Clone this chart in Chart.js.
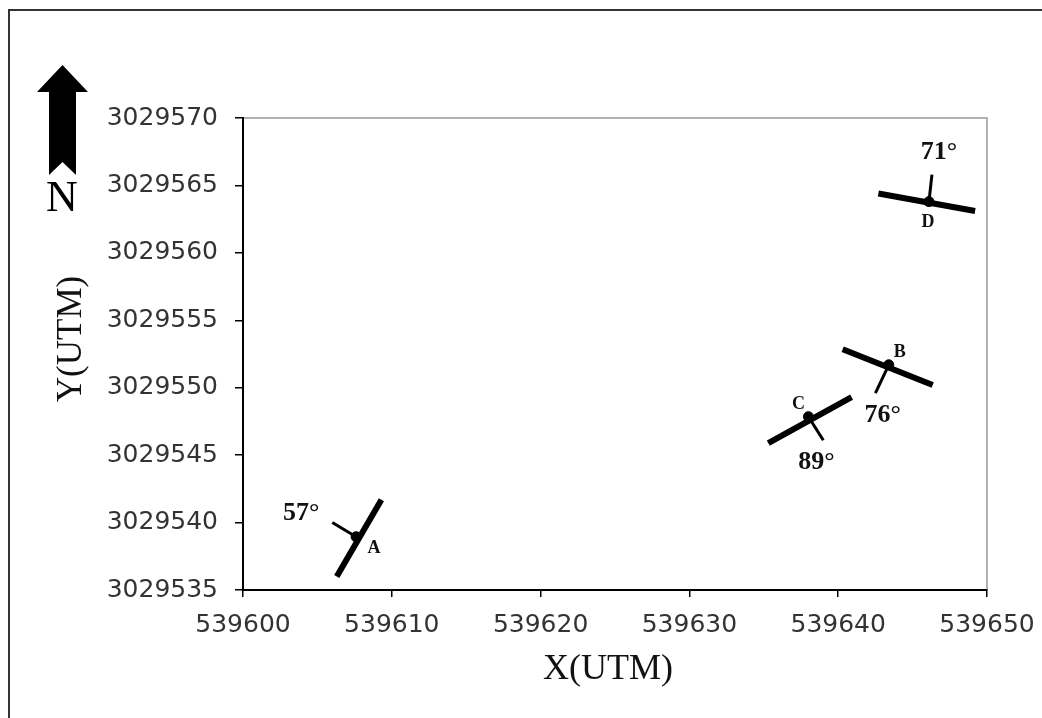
<!DOCTYPE html>
<html>
<head>
<meta charset="utf-8">
<script src="https://cdn.jsdelivr.net/npm/chart.js@4/dist/chart.umd.min.js"></script>
<style>
  html, body { margin: 0; padding: 0; background: #fff; }
  #wrap { width: 1042px; height: 718px; position: relative; }
</style>
</head>
<body>
<div id="wrap"><canvas id="c" width="1042" height="718"></canvas></div>
<script>
// ---- data ----
const stations = ['A', 'B', 'C', 'D'];
const dipLabels = ['57°', '76°', '89°', '71°'];
const stationX = [539607.6, 539643.4, 539638.0, 539646.1];
const stationY = [3029538.95, 3029551.7, 3029547.85, 3029563.8];
const strikeX1 = [539606.3, 539640.3, 539635.3, 539642.7];
const strikeY1 = [3029536.0, 3029552.85, 3029545.9, 3029564.4];
const strikeX2 = [539609.3, 539646.35, 539640.9, 539649.2];
const strikeY2 = [3029541.7, 3029550.2, 3029549.3, 3029563.1];
const dipEndX = [539606.0, 539642.5, 539639.0, 539646.3];
const dipEndY = [3029540.0, 3029549.6, 3029546.1, 3029565.8];
const xTicks = [539600, 539610, 539620, 539630, 539640, 539650];
const yTicks = [3029535, 3029540, 3029545, 3029550, 3029555, 3029560, 3029565, 3029570];
const xTitle = 'X(UTM)';
const yTitle = 'Y(UTM)';
const northLabel = 'N';

// ---- styles (label offsets in pixels relative to station) ----
const dipLabelOffset = { A: [-55, -23], B: [-6, 50], C: [8, 46], D: [10, -49] };
const nameOffset = { A: [18, 12], B: [11, -12], C: [-10, -12], D: [-1, 21] };

const datasets = [];
stations.forEach((s, i) => {
  datasets.push({
    label: 'strike ' + s,
    data: [{ x: strikeX1[i], y: strikeY1[i] }, { x: strikeX2[i], y: strikeY2[i] }],
    showLine: true, borderColor: '#000', borderWidth: 6, pointRadius: 0,
    borderCapStyle: 'butt', clip: false
  });
  datasets.push({
    label: 'dip ' + s,
    data: [{ x: stationX[i], y: stationY[i] }, { x: dipEndX[i], y: dipEndY[i] }],
    showLine: true, borderColor: '#000', borderWidth: 3, pointRadius: 0,
    borderCapStyle: 'butt', clip: false
  });
});
datasets.push({
  label: 'stations',
  data: stations.map((s, i) => ({ x: stationX[i], y: stationY[i] })),
  showLine: false, pointRadius: 5, pointBackgroundColor: '#000', pointBorderColor: '#000',
  clip: false
});

const frame = {
  id: 'frame',
  beforeDraw(chart) {
    const ctx = chart.ctx, a = chart.chartArea;
    ctx.save();
    ctx.fillStyle = '#fff';
    ctx.fillRect(0, 0, chart.width, chart.height);
    // outer border
    ctx.strokeStyle = '#333';
    ctx.lineWidth = 2;
    ctx.strokeRect(9, 10, 1100, 800);
    // plot area grey box
    ctx.strokeStyle = '#999';
    ctx.lineWidth = 1.5;
    ctx.strokeRect(a.left, a.top, a.right - a.left, a.bottom - a.top);
    // north arrow
    ctx.fillStyle = '#000';
    ctx.beginPath();
    ctx.moveTo(62.5, 65);
    ctx.lineTo(88, 92);
    ctx.lineTo(76, 92);
    ctx.lineTo(76, 175);
    ctx.lineTo(62.5, 162);
    ctx.lineTo(49, 175);
    ctx.lineTo(49, 92);
    ctx.lineTo(37, 92);
    ctx.closePath();
    ctx.fill();
    ctx.font = '44px "Liberation Serif", "Times New Roman", serif';
    ctx.textAlign = 'center';
    ctx.textBaseline = 'middle';
    ctx.fillText(northLabel, 62, 199);
    // axis titles
    ctx.fillStyle = '#111';
    ctx.font = '36px "Liberation Serif", "Times New Roman", serif';
    ctx.fillText(xTitle, 608, 670);
    ctx.save();
    ctx.translate(72, 339);
    ctx.rotate(-Math.PI / 2);
    ctx.font = '35px "Liberation Serif", "Times New Roman", serif';
    ctx.fillText(yTitle, 0, 0);
    ctx.restore();
    ctx.restore();
  },
  afterDatasetsDraw(chart) {
    const ctx = chart.ctx, xs = chart.scales.x, ys = chart.scales.y;
    ctx.save();
    ctx.fillStyle = '#111';
    ctx.textAlign = 'center';
    ctx.textBaseline = 'middle';
    stations.forEach((s, i) => {
      const px = xs.getPixelForValue(stationX[i]);
      const py = ys.getPixelForValue(stationY[i]);
      ctx.font = 'bold 26px "Liberation Serif", "Times New Roman", serif';
      ctx.fillText(dipLabels[i], px + dipLabelOffset[s][0], py + dipLabelOffset[s][1]);
      ctx.font = 'bold 18px "Liberation Serif", "Times New Roman", serif';
      ctx.fillText(s, px + nameOffset[s][0], py + nameOffset[s][1]);
    });
    ctx.restore();
  }
};

new Chart(document.getElementById('c'), {
  type: 'scatter',
  data: { datasets },
  plugins: [frame],
  options: {
    responsive: false,
    animation: false,
    devicePixelRatio: 1,
    layout: { padding: { left: 0, right: 55, top: 118, bottom: 0 } },
    plugins: { legend: { display: false }, tooltip: { enabled: false } },
    scales: {
      x: {
        type: 'linear',
        min: xTicks[0], max: xTicks[xTicks.length - 1],
        afterFit(scale) { scale.height = 128; scale.paddingLeft = 0; scale.paddingRight = 0; },
        afterBuildTicks(scale) { scale.ticks = xTicks.map(v => ({ value: v })); },
        ticks: {
          callback: v => String(v),
          font: { family: '"DejaVu Sans", sans-serif', size: 25 },
          color: '#333', padding: 13, maxRotation: 0, autoSkip: false
        },
        grid: { drawOnChartArea: false, drawTicks: true, tickLength: 7, color: '#000', lineWidth: 1.5 },
        border: { display: true, color: '#000', width: 2 },
        title: { display: false }
      },
      y: {
        type: 'linear',
        min: yTicks[0], max: yTicks[yTicks.length - 1],
        afterFit(scale) { scale.width = 243; scale.paddingTop = 0; scale.paddingBottom = 0; },
        afterBuildTicks(scale) { scale.ticks = yTicks.map(v => ({ value: v })); },
        ticks: {
          callback: v => String(v),
          font: { family: '"DejaVu Sans", sans-serif', size: 25 },
          color: '#333', padding: 17, autoSkip: false
        },
        grid: { drawOnChartArea: false, drawTicks: true, tickLength: 8, color: '#000', lineWidth: 1.5 },
        border: { display: true, color: '#000', width: 2 },
        title: { display: false }
      }
    }
  }
});
</script>
</body>
</html>
